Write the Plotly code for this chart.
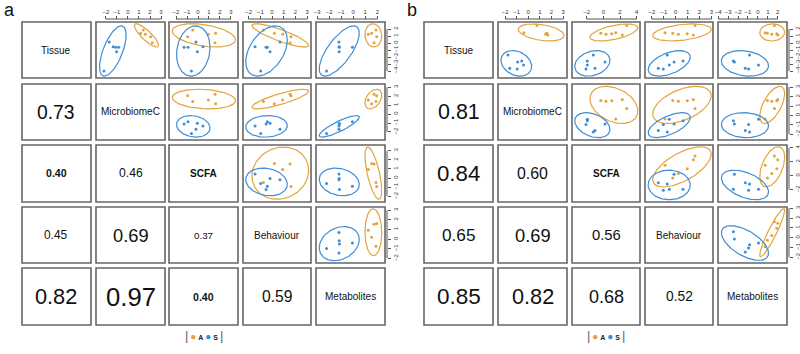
import numpy as np
import plotly.graph_objects as go

W, H = 800, 354

variables = ["Tissue", "MicrobiomeC", "SCFA", "Behaviour", "Metabolites"]
group_names = ["A", "S"]
group_colors = ["#E4A33B", "#3D8DD8"]

# ---------------- panel a : component scores (group A, group S) ----------------
a_tissue_A = [1.86, 1.39, 1.24, 0.90, 0.04]
a_tissue_S = [0.14, -0.53, -0.61, -0.61, -1.24, -4.00]
a_micro_A = [1.39, 1.15, 1.57, 2.06, 2.21]
a_micro_S = [-1.70, -1.34, -1.12, -0.85, -1.03, -2.18]
a_scfa_A = [-0.48, 1.60, 0.94, -0.94, 1.55]
a_scfa_S = [-0.18, 0.45, -1.27, -0.91, -0.06, -0.60]
a_behav_A = [-0.74, 0.20, 0.91, 1.62, 1.54]
a_behav_S = [0.68, -1.45, -0.51, -0.40, -0.17, -0.97]
a_metab_A = [1.89, 1.53, 1.25, 1.95, 1.73]
a_metab_S = [-1.19, -1.19, -1.15, -0.07, -1.17, -2.22]
# lower-triangle correlations, row by row: (2,1),(3,1),(3,2),(4,1),(4,2),(4,3),(5,1),(5,2),(5,3),(5,4)
a_corr = [0.73, 0.40, 0.46, 0.45, 0.69, 0.37, 0.82, 0.97, 0.40, 0.59]
a_corr_bold = [False, True, False, False, False, False, False, False, True, False]

# ---------------- panel b ----------------
b_tissue_A = [1.39, 1.24, 1.33, 1.14, 1.45, 2.50]
b_tissue_S = [-1.71, -2.57, -2.71, -3.14, -3.61, -3.71]
b_micro_A = [1.60, 1.50, 1.55, 1.68, -0.38, 0.75]
b_micro_S = [-1.75, -0.56, -0.91, -0.41, -1.60, -0.95]
b_scfa_A = [-0.31, 0.32, 1.01, 2.28, 1.49, 2.81]
b_scfa_S = [-1.20, -1.92, 0.20, -1.92, -1.00, -2.08]
b_behav_A = [-0.25, 0.22, 0.97, 1.48, -0.90, 1.62]
b_behav_S = [-0.71, 0.61, -0.14, -0.54, -1.46, -1.04]
b_metab_A = [0.96, 1.40, 1.90, 2.00, 0.73, 1.66]
b_metab_S = [-0.84, -2.47, -2.37, 0.06, -1.27, -0.94]
b_corr = [0.81, 0.84, 0.60, 0.65, 0.69, 0.56, 0.85, 0.82, 0.68, 0.52]
b_corr_bold = [False] * 10

# axis ranges and tick values per variable
a_ranges = [(-5, 3), (-2.9, 3.36), (-2.64, 3.64), (-2.48, 3.33), (-3.1, 2.64)]
b_ranges = [(-5, 3), (-2.61, 3.34), (-3.76, 4.4), (-2.58, 3.13), (-4.02, 2.93)]
a_ticks = [[-4, -3, -2, -1, 0, 1, 2], [-2, -1, 0, 1, 2, 3], [-2, -1, 0, 1, 2, 3],
           [-2, -1, 0, 1, 2, 3], [-3, -2, -1, 0, 1, 2]]
b_ticks = [[-4, -3, -2, -1, 0, 1, 2], [-2, -1, 0, 1, 2, 3], [-2, 0, 2, 4],
           [-2, -1, 0, 1, 2, 3], [-4, -3, -2, -1, 0, 1, 2]]

panels = [
    dict(name="a",
         A=[a_tissue_A, a_micro_A, a_scfa_A, a_behav_A, a_metab_A],
         S=[a_tissue_S, a_micro_S, a_scfa_S, a_behav_S, a_metab_S],
         corr=a_corr, bold=a_corr_bold, ranges=a_ranges, ticks=a_ticks,
         cols=[(22, 91), (96, 165), (169, 238), (243, 311), (316, 385)],
         label_x=9, legend_x=204),
    dict(name="b",
         A=[b_tissue_A, b_micro_A, b_scfa_A, b_behav_A, b_metab_A],
         S=[b_tissue_S, b_micro_S, b_scfa_S, b_behav_S, b_metab_S],
         corr=b_corr, bold=b_corr_bold, ranges=b_ranges, ticks=b_ticks,
         cols=[(424, 493), (498, 567), (572, 640), (645, 713), (718, 787)],
         label_x=412, legend_x=606),
]
rows_px = [(22, 78), (84, 140), (145, 202), (207, 263), (268, 325)]

FONT = "Liberation Sans, Arial, sans-serif"
BOX = "#666666"
AX = "#555555"
CHI = np.sqrt(5.991464547107979)  # 95% level, 2 df


def ellipse(xs, ys, n=120):
    x = np.asarray(xs, float)
    y = np.asarray(ys, float)
    cov = np.cov(x, y)
    vals, vecs = np.linalg.eigh(cov)
    vals = np.clip(vals, 0, None)
    t = np.linspace(0, 2 * np.pi, n)
    circ = np.vstack([np.cos(t), np.sin(t)])
    pts = vecs @ (np.sqrt(vals)[:, None] * circ) * CHI
    return x.mean() + pts[0], y.mean() + pts[1]


fig = go.Figure()
layout = dict(width=W, height=H, margin=dict(l=0, r=0, t=0, b=0),
              paper_bgcolor="white", plot_bgcolor="white", showlegend=False,
              font=dict(family=FONT, color="#222"))
shapes, annotations = [], []


def px(x):
    return x / W


def py(y):
    return 1 - y / H


def note(x, y, text, size, color="#111"):
    return dict(x=px(x), y=py(y), xref="paper", yref="paper", text=text,
                xanchor="center", yanchor="middle", showarrow=False,
                font=dict(size=size, color=color, family=FONT))


k = 0
for P in panels:
    ci = 0
    for i in range(5):
        for j in range(5):
            x0, x1 = P["cols"][j]
            y0, y1 = rows_px[i]
            shapes.append(dict(type="rect", xref="paper", yref="paper",
                               x0=px(x0), x1=px(x1), y0=py(y1), y1=py(y0),
                               line=dict(color=BOX, width=1.6), layer="above"))
            cxp, cyp = (x0 + x1) / 2, (y0 + y1) / 2
            if i == j:
                name = variables[i]
                annotations.append(note(cxp, cyp, "<b>%s</b>" % name if name == "SCFA" else name, 10))
            elif i > j:
                r = P["corr"][ci]
                txt = "%.2f" % r
                if P["bold"][ci]:
                    txt = "<b>%s</b>" % txt
                annotations.append(note(cxp, cyp, txt, max(26.5 * abs(r), 6)))
                ci += 1
            else:
                k += 1
                sx = "" if k == 1 else str(k)
                xname, yname = "x" + sx, "y" + sx
                rx, ry = P["ranges"][j], P["ranges"][i]
                xa = dict(domain=[px(x0), px(x1)], range=list(rx), showgrid=False,
                          zeroline=False, fixedrange=True, automargin=False)
                if i == 0:
                    tv = P["ticks"][j]
                    xa.update(anchor="free", position=py(y0 - 3), side="top", showline=False,
                              ticks="outside", ticklen=3, tickwidth=1, tickcolor=AX,
                              tickvals=tv, tickfont=dict(size=6, color="#333", family=FONT))
                    # axis line spanning first..last tick (R style)
                    shapes.append(dict(type="line", xref=xname, yref="paper",
                                       x0=tv[0], x1=tv[-1], y0=py(y0 - 3), y1=py(y0 - 3),
                                       line=dict(color=AX, width=1)))
                else:
                    xa.update(visible=False, anchor=yname)
                ya = dict(domain=[py(y1), py(y0)], range=list(ry), showgrid=False,
                          zeroline=False, fixedrange=True, automargin=False)
                if j == 4:
                    tv = P["ticks"][i]
                    ya.update(anchor="free", position=px(x1 + 2), side="right", showline=False,
                              ticks="outside", ticklen=3, tickwidth=1, tickcolor=AX,
                              tickvals=tv, tickangle=-90,
                              tickfont=dict(size=6, color="#333", family=FONT))
                    shapes.append(dict(type="line", xref="paper", yref=yname,
                                       x0=px(x1 + 2), x1=px(x1 + 2), y0=tv[0], y1=tv[-1],
                                       line=dict(color=AX, width=1)))
                else:
                    ya.update(visible=False, anchor=xname)
                layout["xaxis" + sx] = xa
                layout["yaxis" + sx] = ya
                for g, col in zip(["A", "S"], group_colors):
                    xs, ys = P[g][j], P[g][i]
                    ex, ey = ellipse(xs, ys)
                    fig.add_trace(go.Scatter(x=xs, y=ys, mode="markers", xaxis=xname, yaxis=yname,
                                             marker=dict(size=3, color=col), hoverinfo="skip"))
                    fig.add_trace(go.Scatter(x=ex, y=ey, mode="lines", xaxis=xname, yaxis=yname,
                                             line=dict(color=col, width=1.2), hoverinfo="skip"))
    # panel letter
    annotations.append(note(P["label_x"], 10, P["name"], 18))
    # legend
    leg = ("<span style='color:#666;font-size:13px'>|</span> "
           "<span style='color:%s;font-size:10px'>●</span> <b>A</b> "
           "<span style='color:%s;font-size:10px'>●</span> <b>S</b> "
           "<span style='color:#666;font-size:13px'>|</span>") % (group_colors[0], group_colors[1])
    annotations.append(note(P["legend_x"], 335, leg, 7, "#222"))

layout["shapes"] = shapes
layout["annotations"] = annotations
fig.update_layout(**layout)
fig.write_html("out.html", config={"displayModeBar": False, "staticPlot": True},
               post_script="document.body.style.margin='0';document.body.style.overflow='hidden';")
